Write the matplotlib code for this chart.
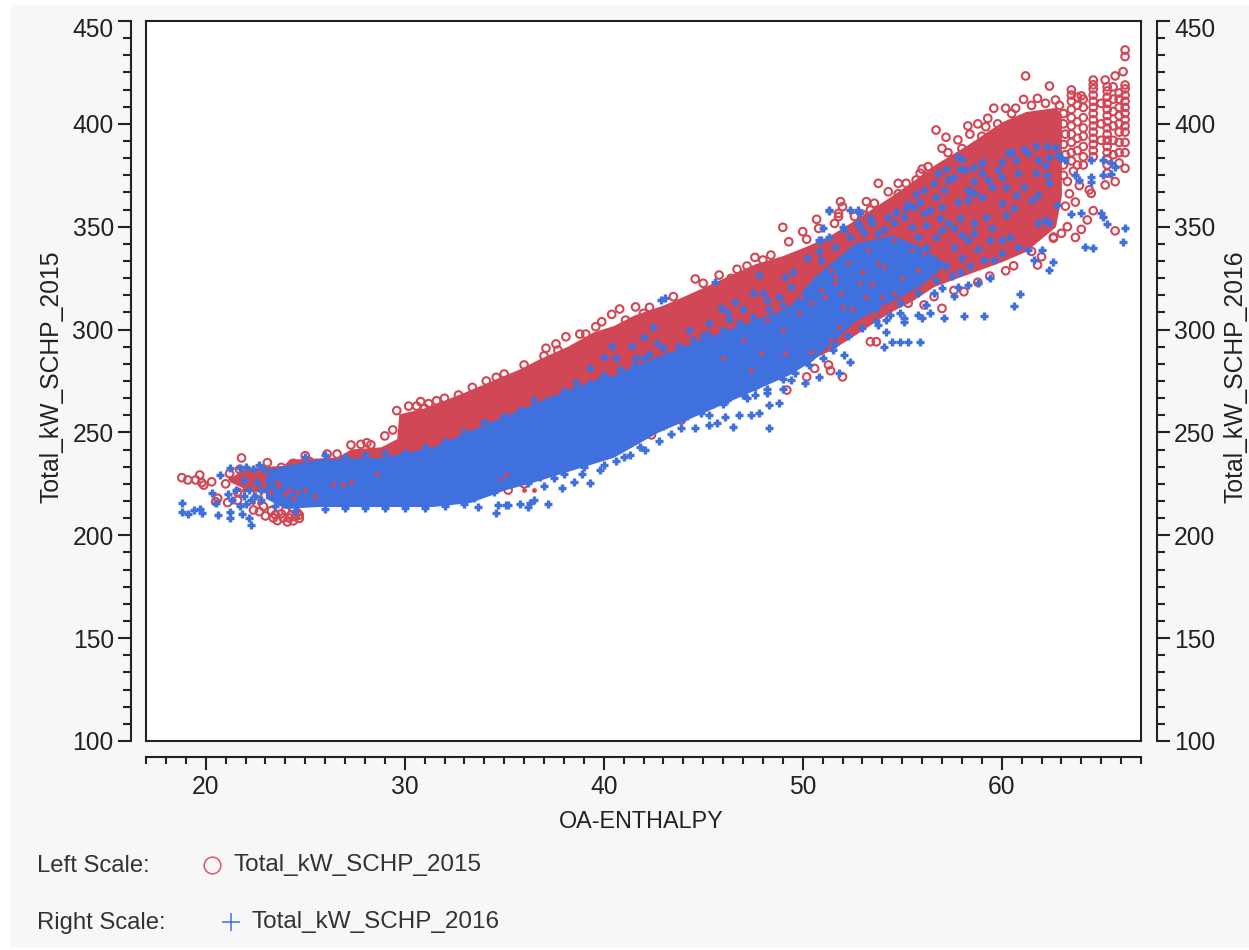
import matplotlib
matplotlib.use("Agg")
import matplotlib.pyplot as plt
from matplotlib.lines import Line2D
from matplotlib.patches import Rectangle
from matplotlib.ticker import MultipleLocator, AutoMinorLocator
from matplotlib.transforms import ScaledTranslation

plt.rcParams['font.family'] = ['Liberation Sans', 'DejaVu Sans']

RED = '#D24755'
BLUE = '#4070DE'
TXT = '#222222'

# dense core of the 2015 cloud
red_core_x = [21.2, 22.1, 23.9, 24.2, 26.6, 27.3, 28.8, 29.6, 29.7, 31.0, 33.1, 34.8, 35.8, 36.8, 38.2, 39.5, 40.5, 41.5, 43.0, 44.2, 46.0, 47.6, 49.0, 50.3, 51.4, 52.4, 54.3, 55.5, 56.6, 58.3, 60.0, 61.2, 62.7, 63.0]
red_core_top = [228, 233, 234, 237, 238, 242, 243, 247, 259, 262, 270, 277, 281, 286, 292, 299, 302, 307, 312, 317, 325, 332, 336, 341, 346, 352, 364, 372, 380, 390, 401, 406, 408, 405]
red_core_bot = [226, 222, 219, 218, 217, 216, 216, 216, 216, 216, 216, 222, 226, 230, 234, 240, 244, 250, 254, 260, 266, 274, 279, 285, 290, 296, 308, 314, 321, 327, 333, 338, 350, 365]

# dense core of the 2016 cloud
blue_core_x = [23.0, 24.0, 25.6, 28.9, 31.4, 33.3, 35.0, 36.5, 38.5, 40.5, 42.7, 46.5, 49.3, 50.5, 52.6, 54.5, 56.0, 57.2]
blue_core_top = [232, 234, 237, 238, 243, 251, 258, 264, 272, 278, 287, 301, 311, 325, 342, 346, 340, 332]
blue_core_bot = [218, 213, 214, 214, 214, 216, 222, 226, 232, 238, 250, 266, 278, 285, 304, 314, 322, 332]

red_left = [(18.8,228),(19.1,226.9),(19.5,226.9),(19.7,229.3),(19.8,225.6),(19.9,224.4),(20.3,226),(21,225),(21.8,237.6),(20.6,218),(20.5,216.3),(21.1,215.9),(21.6,217),(23.1,235.3),(25,238.7),(26.1,239.5),(26.6,239.5),(27.3,243.9),(27.8,244.2),(28.1,245),(28.3,244),(29,248.3),(29.4,251.2),(29.6,260.6),(30.2,262.8),(30.6,262.8),(30.8,265),(31,261.7),(31.2,264),(31.6,265.4),(32,266.6),(32.7,268.2),(33.4,271.9),(34.1,275),(34.6,276.8),(35,278.4),(36,282.8),(37.1,290.9),(37,287.2),
(23,209.4),(23.4,208.4),(23.6,207.1),(24.1,206.5),(24.4,207),(24.7,208.2),(24.7,209.8),(24.1,218.4),(22.4,212.3),(22.7,211.5),(23.9,208.4),(24.2,208.4),(24.5,209),(24.3,210),(24.6,211),(23.8,210.5),(23.5,210),(24,212),(24.4,213),(23.3,212),(22.9,214),
(21.6,221),(22.1,224),(22.6,220),(23,225),(22.3,229),(23.4,231),(21.2,230),(21.7,232),(24.6,233),(25.2,236),(23.8,233),(24.4,235)]
red_upper_mid = [(37.6,293),(37.7,290),(38.1,296.5),(38.8,297.8),(39.1,297.8),(39.6,301.4),(39.9,303.8),(40.4,307.4),(40.8,310),(40.2,298),(41.1,304.6),(41.6,311),(42.3,310.8),(42,307.9),(43.5,316),(44.6,324.6),(45,322.5),(45.8,326.5),(46.4,324.9),(46.7,329.3),(47.2,330.9),(47.6,335.1),(48,333.8),(48.4,336.2),(49,349.7),(49.3,342.7),(50,347.6),(50.2,343.9),(50.7,353.6),(51.6,351.6),(51.9,362.2),(52,359.7),(51.8,356.5),
(49.2,270.6),(52,277),(51.3,282.8),(50.6,281.1),(50.2,277),(40.1,239),(42.4,248.8),(43.9,256),(46.1,268),(51.4,280),(47,272),(48.5,277),(44.9,262),(38.6,236),(36,225),(35.2,222)]
red_upper_right = [(50.8,349.2),(51.8,354.9),(53.2,362.2),(53.6,361.4),(53.4,358.1),(53.8,371.1),(54.3,367),(54.8,371.1),(55.2,371.1),(55.3,364.6),(55.7,372.7),(55.9,376),(56.3,379.2),(56.7,397),(57.2,393.5),(57,388.1),(57.8,392.2),(58.3,399),(58.4,395),(58.8,400),(59.3,402.7),(59.2,398.6),(59.5,394.6),(59.6,407.6),(60.2,407.6),(60.7,407.6),(61.1,411.9),(61.2,423.3),(61.8,412.4),(62.4,418.4),(62.7,411.6),
(63.5,416.5),(64,413.6),(64.6,421.3),(65.2,421.3),(65.7,423.3),(66.1,425.4),(66.2,418.9),(66.2,435.9),(66.2,432.7),(66.2,378.4),(65.7,371.9),(65.2,370.3),
(65.7,348),(64,348.7),(63.7,344.8),(64.3,353.3),(64.6,357.8),(64.5,366.2),(64.4,367.9),(63.3,350),(63,346.8),(62.6,344.4),(62,335.4),(61.8,331.4),(60.2,328.6),(58.1,318.4),(57,310.3),(55.3,312.8),(53.4,294.1),(53.7,294.1),(56.1,312),
(63.2,360),(63.4,366),(63.7,362),(63.9,370),(63.3,372),(63.6,377),(62.6,345),(61.5,338),(60.6,331),(59.4,326),(58.8,323),(57.6,319),(56.6,316),
(60.5,405),(61.5,409),(62.2,410),(62.9,409),(63.1,405),(63.1,400),(63.2,395),(63.1,390),(63.2,385),(63.1,380),(63.1,375),(57.3,386),(58,388),(59,394),(59.8,400),(56,378),(54.8,366),(53,356),(52.6,355)]
# vertical columns at the far right of the 2015 cloud
red_col_x = [63.5, 63.8, 64.1, 64.6, 65.0, 65.3, 65.6, 65.9, 66.2]
red_col_y = [
    [382, 386, 391, 395, 399, 403, 407, 411, 414],
    [380, 387, 393, 401, 409, 413],
    [380, 384, 389, 394, 398, 403, 408, 412],
    [384, 387, 390, 393, 396, 399, 402, 405, 408, 411, 414, 417, 419],
    [392, 400, 410],
    [376, 380, 383, 386, 389, 392, 395, 398, 401, 404, 407, 410, 413, 416, 418],
    [385, 392, 399, 406, 412, 418],
    [381, 386, 391, 396, 400, 404, 408, 412, 415],
    [386, 391, 396, 399, 402, 405, 408, 411, 414, 417],
]

red_flecks = [(50.4,312.8),(51.1,316),(51.6,322.5),(52.3,332.2),(52.9,322.5),(53.8,332.2),(54.1,330.6),(53.3,338.7),(54.6,343.5),(55.5,338.7),(56.1,337.1),(56.8,338.7),(54,316),(54.6,317.6),(55.3,316),(54,311.1),(55.8,329),(50.3,324.1),(50.6,333.8),(51.4,329),
(49.8,307.9),(48.7,309.5),(48.2,304.6),(49.9,316),(50.9,319.2),(51.6,325.7),(51.9,317.6),(49.1,288.4),(50.4,289.2),(47.9,288.4),(47.4,280.3),(51.8,301.4),(51.4,294.9),
(26.4,225),(26.9,225),(27.3,226),(28.6,230),(24.2,222),(23.7,224),(22.4,225),(21.7,227),(21.2,228),(24.6,221),(22.4,216.3),(22.7,215.5),(35.1,230),(34.8,226.9),(36,222),(36.5,222),(22.0,229),(22.9,228),(23.3,221),(21.9,222),(22.6,231),
(23.2,226),(23.6,226),(24,220),(24.4,218),(25,222),(25.5,219),(23,230),(52.5,310),(53.2,316),(53,328),(52,311),(53.5,322),(55,325),(49,300),(47,295),(46,286)]

blue_left = [(18.8,215.8),(18.8,211.5),(19.1,210.2),(19.4,212.3),(19.7,212.8),(19.8,210.7),(20.3,220.7),(20.5,215.9),(20.6,209.9),(21.2,211.5),(21.2,208.2),(20.7,229.3),(21.2,232.5),(21.7,232.5),(21.8,210.2),(22.3,205),(22.2,208.2),
(21.5,222),(21.9,219),(22.2,222),(22.5,219),(22.8,222),(22.0,215),(21.7,214),(22.4,232),(22.9,232),(22.6,226),(23.2,227),(23.5,230),(21.1,220),(21.3,217),(22.3,217),(22.8,217),(21.9,227),(22,233),(22.7,234),
(33.7,213.9),(34.6,211),(34.7,214.7),(35.2,214.7),(35.8,215.2),(36.2,213.9),(36.5,217.1),(37.2,215.2),(34.5,221.2),(36.2,225.2),(36.8,228.5),(35.1,214.7),(36.3,215.7),(37.9,223),(39.3,225.4),(39.8,231.7),(42.1,241.5),(38.5,226),(38.9,230),(37.5,228),(40.6,236),(41.3,239),
(23.5,214),(24.5,212),(26,213),(27,213.5),(28,213.5),(29,213.5),(30,213.5),(31,213.5),(32,214),(33,215),(33.5,218),(34,222),(34.8,225),(35.5,228),(36,228),(36.7,231),(37.3,232),(38,234),(38.7,236),(39.3,238),(40,241),(40.5,243),(41,245),(41.7,247),(42.3,251),(43,253),
(25,238),(26,239),(27,238),(28,239),(29,240),(30,240),(31,243),(32,246),(33,250),(34,255),(35,258),(35.8,261),(36.5,266),(37.2,266),(38,270),(38.6,274),(39.3,274),(40,278),(40.8,281),(41.5,283),(42.3,288),(43,291),(43.8,292),(44.5,295),(45,297),(46,300),(46.8,303),(47.5,306),(48.3,310),(49,312),
(36.3,228),(37,224),(38,230),(39,233),(40,234),(41,238),(41.8,243),(42.8,246),(43.4,249)]
blue_mid = [(48.3,252),(46.5,252.8),(45.3,253.6),(45.7,254.4),(46.1,257.3),(46.8,258.5),(47.4,258.5),(47.8,259.3),(48.3,263.3),(48.8,264.1),(47.2,266.6),(48.2,269),(44.6,252),(43.9,252),(44.9,259.3),(45.3,258.5),(49.4,275.5),(50.1,273.8),(50.8,277),(51.8,278.7),(52.1,287.6),(51.5,290),(52.4,284.4),(51.3,357.8),(51,349.2),(50.9,343.5),(45.6,323.3),(42.9,314.4),(43.1,315.2),
(40.4,292.2),(41.4,292.2),(39.3,281.1),(40,286.8),(40.6,286),(41.6,286),(42,286),(38.6,273.9),(39.8,275.5),(42.5,301.4),(42,296.5),(42.7,293.3),(44,290),(44.9,293.3),(45.3,303),(45.9,310.3),(46.2,308.7),(46.6,313.6),(47.5,317.6),(47.8,326.5),(49.1,325.7),(48.2,314.4),(49.4,320.8),(50.9,333.8),(51.6,340.3),
(43.4,262),(44,257),(45,262),(46,264),(49,271),(47.6,272),
(43.5,256),(44.2,258),(44.8,262),(45.5,264),(46.2,266),(47,268),(47.6,268),(48.2,271),(49,276),(49.6,279),(50.3,283),(51,286),(51.6,293),(52.3,297),(53,301),(53.7,304),(54.4,307),
(44.3,300),(45.2,298),(46.3,305),(47,310),(48,318),(48.8,316),(49.5,328),(50.2,335),(50.8,338),(51.3,345),(52,350),(52.8,352),(53.5,352)]
blue_right = [(61.7,389),(62.3,389),(62.7,388.9),(61.1,388),(60.5,386.5),(60,381.6),(59,381.6),(57.8,384),(58.0,383),(57.6,374.3),(58.3,367.9),(58.6,366.2),
(60.9,317.3),(60.6,311.5),(59.1,306.8),(58.1,306.8),(57.1,305.8),(55.9,294.1),(55.3,294.1),(54.9,294.1),(54.5,294.1),(54.1,291.7),(56.4,307.9),(55.8,307.1),(55.1,305.5),(54.2,304.7),(53.8,302.2),(54.2,299),(55.1,303.9),(56,305.5),(57.6,316.3),(57.8,320.9),(58.3,321.7),(58.8,322.5),(59.4,324.9),(62.4,329),(62.6,332.7),(64.2,340.3),(64.6,339.5),(66.1,342.4),(66.2,349.2),(65.3,351.3),(65.1,354.9),(65,356.8),(64,356.8),(63.5,356.2),(63.7,375.1),(63.9,372.7),(64.5,382.4),(64.5,374.3),(64.5,371.9),(65.1,382.4),(65.5,380.8),(65.7,379.2),(65.5,375.6),(65.1,375.1),(63.2,382.4),(62.9,384.9),(51.3,358.1),(52.4,358.1),(52.8,358.1),(52.9,356.5),(50.8,343.5),
(57.9,354),(57.6,349.2),(58.6,351.6),(59.2,354.9),(59.5,349.2),(60,361.4),(60.7,365.4),(60.6,358.9),(60.2,355.7),(61.5,363),(61.8,365.4),(62.4,371.1),(62.3,375.1),(61.7,376),(60.8,376),(60,374.3),(59.5,369.5),(59,364.6),(58.4,367),(58.3,363),(57.8,362.2),(57.3,372.7),(57.1,367.9),(56.7,364.6),(56.6,371.1),(57,359.8),(56.1,356.5),(55.6,359.8),(55.1,354.9),(54.6,351.6),(54.3,354.9),(53.8,346.8),(53.1,346.8),(52.4,345.2),(52.1,348.4),
(57,348.4),(56.7,345.2),(57.6,340.3),(58.3,343.5),(58.6,346.8),(59.4,343.5),(60,343.5),(60.4,345.2),(60.8,340.3),(61.3,338.7),(61.6,333.8),(62,338.7),(62.4,351.6),(62.8,360.5),(62.2,353.3),(61.8,351.6),(60,337.1),(59.6,333.8),(59,380.8),(58.6,379.2),(58.2,377.6),(60.3,385.7),(61.3,385.7),(61.8,382.4),(62.2,380),(62.4,384.1),(62.9,384.1),(60.7,382.4),(59.8,377.6),(59.3,372.7),(60.2,369.5),(61.1,369.5),
(55.8,345),(56.2,340),(55,342),(55.5,350),(56.2,351),(54.8,333),(55.6,327),(56.5,329),(57.2,331),(58,335),(54.4,322),(55.2,320),(56.6,318),(57.5,326),(53.7,310),(54.9,313),
(55.2,359),(55.9,362),(56.4,358),(56.9,354),(57.3,352),(58,346),(58.8,339),(59.1,334),(58.4,331),(57.9,328),(56.7,324),(55.8,318),(54.9,308),(56.2,312),(57,320),
(58.6,372),(59,376),(57.9,378),(57.2,378),(56.8,376),(56.1,368),(55.7,366),(55.3,361),(54.7,357),(54.1,349),(53.4,354),(52.9,350)]

ticks_major_x = [20, 30, 40, 50, 60]
ticks_major_y = [100, 150, 200, 250, 300, 350, 400, 450]
x_label = 'OA-ENTHALPY'
left_label = 'Total_kW_SCHP_2015'
right_label = 'Total_kW_SCHP_2016'

W, H = 1249, 950
fig = plt.figure(figsize=(W / 100, H / 100), dpi=100, facecolor='white')
fig.add_artist(Rectangle((11 / W, 2 / H), (W - 11) / W, (945 - 2) / H, transform=fig.transFigure, facecolor='#F7F7F7', edgecolor='none', zorder=-10))
rect = [146 / W, 1 - 741 / H, (1141 - 146) / W, (741 - 21) / H]

LW = 1.5
def scale_axes(label):
    a = fig.add_axes(rect, frameon=True, facecolor='none', label=label)
    a.set_xlim(17, 67)
    a.set_ylim(100, 450)
    for s in a.spines.values():
        s.set_visible(False)
    a.set_xticks([]); a.set_yticks([])
    return a

def style_y(a):
    a.set_yticks(ticks_major_y)
    a.yaxis.set_minor_locator(AutoMinorLocator(6))
    a.tick_params(axis='y', which='major', length=9.4, width=LW, labelsize=17.7, pad=3, colors=TXT)
    a.tick_params(axis='y', which='minor', length=5.6, width=LW, color=TXT)
    top = a.get_yticklabels()[-1]
    top.set_transform(top.get_transform() + ScaledTranslation(0, -5 / 72, fig.dpi_scale_trans))

ax_l = scale_axes('l')
ax_l.spines['left'].set_visible(True)
ax_l.spines['left'].set_position(('outward', 10.8))
ax_l.spines['left'].set_linewidth(LW)
ax_l.spines['left'].set_color(TXT)
style_y(ax_l)

ax_r = scale_axes('r')
ax_r.yaxis.tick_right()
ax_r.spines['right'].set_visible(True)
ax_r.spines['right'].set_position(('outward', 11.5))
ax_r.spines['right'].set_linewidth(LW)
ax_r.spines['right'].set_color(TXT)
style_y(ax_r)

ax_b = scale_axes('b')
ax_b.spines['bottom'].set_visible(True)
ax_b.spines['bottom'].set_position(('outward', 11.5))
ax_b.spines['bottom'].set_linewidth(LW)
ax_b.spines['bottom'].set_color(TXT)
ax_b.set_xticks(ticks_major_x)
ax_b.xaxis.set_minor_locator(MultipleLocator(1))
ax_b.tick_params(axis='x', which='major', length=9.4, width=LW, labelsize=17.7, pad=3.5, colors=TXT)
ax_b.tick_params(axis='x', which='minor', length=5.0, width=LW, color=TXT)

ax = fig.add_axes(rect, facecolor='white')
ax.set_xlim(17, 67)
ax.set_ylim(100, 450)
ax.set_xticks([]); ax.set_yticks([])
for s in ax.spines.values():
    s.set_linewidth(LW)
    s.set_color(TXT)

def unzip(pairs):
    return [p[0] for p in pairs], [p[1] for p in pairs]

ax.fill_between(red_core_x, red_core_bot, red_core_top, color=RED, lw=0, zorder=1)
rx, ry = unzip(red_left + red_upper_mid + red_upper_right)
for cx, ys in zip(red_col_x, red_col_y):
    rx += [cx] * len(ys)
    ry += ys
ax.scatter(rx, ry, s=30, marker='o', facecolors='none', edgecolors=RED, linewidths=1.5, zorder=2)
ax.fill_between(blue_core_x, blue_core_bot, blue_core_top, color=BLUE, lw=0, zorder=3)
fx, fy = unzip(red_flecks)
ax.scatter(fx, fy, s=12, marker='o', color=RED, linewidths=0, zorder=4)
bx, by = unzip(blue_left + blue_mid + blue_right)
ax.scatter(bx, by, s=34, marker='+', color=BLUE, linewidths=2.4, zorder=5)

fig.text(641 / W, 1 - 822 / H, x_label, ha='center', va='center', fontsize=16.8, color=TXT)
fig.text(52 / W, 1 - 377 / H, left_label, ha='center', va='center', rotation=90, fontsize=17.8, color=TXT)
fig.text(1235 / W, 1 - 377 / H, right_label, ha='center', va='center', rotation=90, fontsize=17.8, color=TXT)

LEG = '#333333'
fig.text(37 / W, 1 - 866 / H, 'Left Scale:', ha='left', va='center', fontsize=17.2, color=LEG)
fig.text(37 / W, 1 - 923 / H, 'Right Scale:', ha='left', va='center', fontsize=17.2, color=LEG)
fig.text(233 / W, 1 - 865 / H, left_label, ha='left', va='center', fontsize=17.5, color=LEG)
fig.text(252 / W, 1 - 922 / H, right_label, ha='left', va='center', fontsize=17.5, color=LEG)
fig.add_artist(Line2D([212 / W], [1 - 865 / H], marker='o', ms=12, mfc='none', mec='#DD5565', mew=1.1, ls='none', transform=fig.transFigure))
fig.add_artist(Line2D([231 / W], [1 - 922 / H], marker='+', ms=13, mec=BLUE, mew=1.1, ls='none', transform=fig.transFigure))

fig.savefig('out.png', dpi=100, facecolor=fig.get_facecolor())
